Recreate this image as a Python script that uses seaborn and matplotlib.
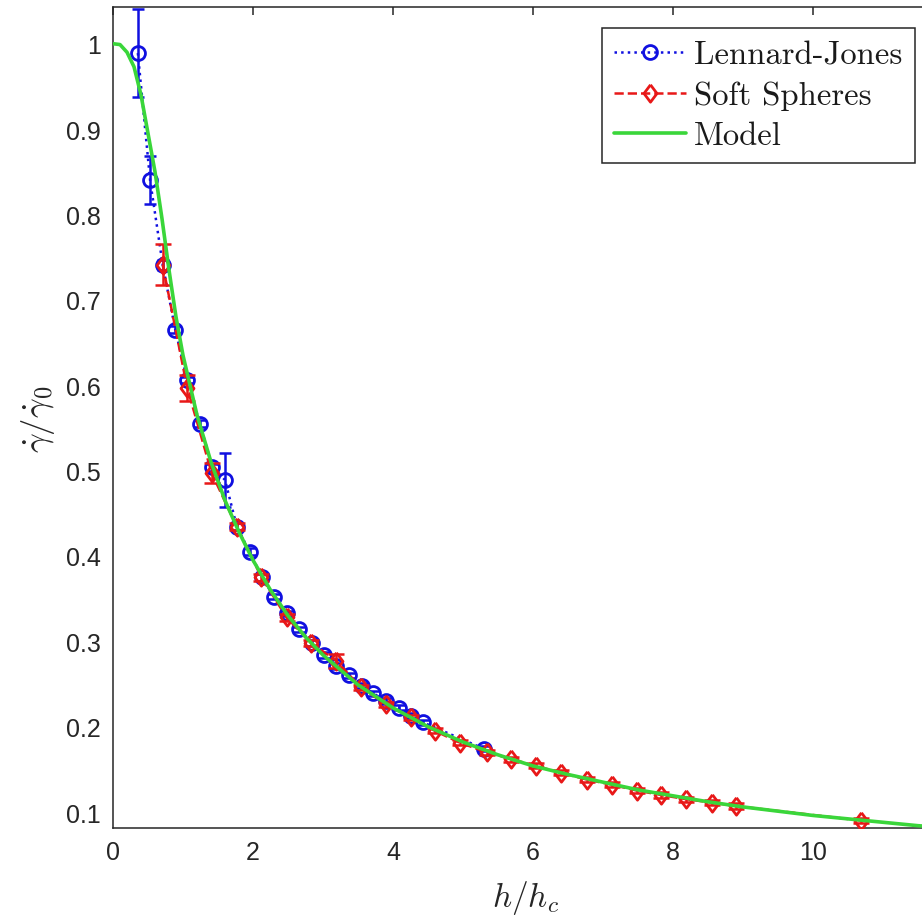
import matplotlib
matplotlib.use("Agg")
import matplotlib.pyplot as plt
import numpy as np
import pandas as pd
import seaborn as sns

# Lennard-Jones data (blue circles)
lj_x = [0.355, 0.53, 0.71, 0.89, 1.06, 1.24, 1.42, 1.60, 1.77, 1.95, 2.13, 2.30,
        2.48, 2.66, 2.84, 3.01, 3.19, 3.37, 3.55, 3.72, 3.90, 4.08, 4.26, 4.43, 5.30]
lj_y = [0.989, 0.840, 0.741, 0.665, 0.606, 0.555, 0.504, 0.489, 0.434, 0.405, 0.375, 0.352,
        0.333, 0.314, 0.298, 0.284, 0.271, 0.260, 0.248, 0.239, 0.230, 0.222, 0.213, 0.205, 0.174]
lj_err = [0.052, 0.028, 0.006, 0.004, 0.004, 0.004, 0.004, 0.032, 0.004, 0.004, 0.004, 0.003,
          0.003, 0.003, 0.003, 0.003, 0.003, 0.003, 0.003, 0.003, 0.003, 0.003, 0.003, 0.003, 0.003]

# Soft Spheres data (red diamonds)
ss_x = [0.71, 1.06, 1.41, 1.77, 2.12, 2.48, 2.83, 3.19, 3.54, 3.90, 4.25, 4.60, 4.96,
        5.34, 5.69, 6.04, 6.40, 6.77, 7.13, 7.49, 7.83, 8.19, 8.56, 8.90, 10.69]
ss_y = [0.741, 0.597, 0.497, 0.434, 0.375, 0.328, 0.298, 0.277, 0.246, 0.226, 0.211, 0.195, 0.181,
        0.170, 0.162, 0.154, 0.146, 0.138, 0.132, 0.125, 0.120, 0.115, 0.111, 0.107, 0.090]
ss_err = [0.024, 0.015, 0.012, 0.004, 0.004, 0.004, 0.004, 0.008, 0.003, 0.003, 0.003, 0.003, 0.003,
          0.003, 0.003, 0.003, 0.003, 0.003, 0.003, 0.003, 0.003, 0.003, 0.003, 0.003, 0.003]

# Model curve
model_x = [0.0, 0.1, 0.2, 0.3, 0.4, 0.5, 0.6, 0.7, 0.8, 0.9, 1.0, 1.2, 1.4, 1.6, 1.8, 2.0,
           2.25, 2.5, 2.75, 3.0, 3.5, 4.0, 4.5, 5.0, 5.5, 6.0, 6.5, 7.0, 7.5, 8.0, 8.5,
           9.0, 9.5, 10.0, 10.5, 11.0, 11.5, 12.0]
model_y = [1.0, 0.999, 0.99, 0.973, 0.94, 0.895, 0.85, 0.795, 0.735, 0.68, 0.635, 0.565,
           0.51, 0.465, 0.428, 0.395, 0.36, 0.33, 0.305, 0.284, 0.249, 0.222, 0.2, 0.182,
           0.167, 0.154, 0.144, 0.135, 0.126, 0.119, 0.112, 0.106, 0.101, 0.096, 0.092,
           0.088, 0.084, 0.081]

x_ticks = [0, 2, 4, 6, 8, 10]
y_ticks = [0.1, 0.2, 0.3, 0.4, 0.5, 0.6, 0.7, 0.8, 0.9, 1.0]
y_ticklabels = ["0.1", "0.2", "0.3", "0.4", "0.5", "0.6", "0.7", "0.8", "0.9", "1"]

sns.set_style("white")
plt.rcParams["font.family"] = ["Liberation Sans", "DejaVu Sans"]
plt.rcParams["mathtext.fontset"] = "cm"

blue = "#1010e0"
red = "#e81818"
green = "#3ad63a"
dark = "#262626"

# MATLAB-like diamond, a bit wider than matplotlib's thin diamond
diamond = [(0, 1), (0.75, 0), (0, -1), (-0.75, 0), (0, 1)]

fig = plt.figure(figsize=(9.22, 9.20), dpi=100)
ax = fig.add_axes([113 / 922, 1 - 829 / 920, (939 - 113) / 922, (829 - 8) / 920])

lj = pd.DataFrame({"x": lj_x, "y": lj_y})
ss = pd.DataFrame({"x": ss_x, "y": ss_y})
model = pd.DataFrame({"x": model_x, "y": model_y})

# error bars
ax.errorbar(lj_x, lj_y, yerr=lj_err, fmt="none", ecolor=blue, elinewidth=1.8, capsize=4,
            capthick=1.8, zorder=2)
ax.errorbar(ss_x, ss_y, yerr=ss_err, fmt="none", ecolor=red, elinewidth=1.8, capsize=6,
            capthick=1.8, zorder=3)

sns.lineplot(data=lj, x="x", y="y", ax=ax, estimator=None, sort=False, color=blue,
             linestyle=":", linewidth=1.8, marker="o", markersize=10, markerfacecolor="none",
             markeredgecolor=blue, markeredgewidth=2, label="Lennard-Jones", zorder=2)
sns.lineplot(data=ss, x="x", y="y", ax=ax, estimator=None, sort=False, color=red,
             linestyle="--", dashes=(6, 5), linewidth=1.8, marker=diamond, markersize=12.5,
             markerfacecolor="none", markeredgecolor=red, markeredgewidth=2,
             label="Soft Spheres", zorder=3)
sns.lineplot(data=model, x="x", y="y", ax=ax, estimator=None, sort=False, color=green,
             linewidth=2.6, label="Model", zorder=4)

ax.set_xlim(0, 11.8)
ax.set_ylim(0.0813, 1.043)
ax.set_xticks(x_ticks)
ax.set_xticklabels([str(t) for t in x_ticks])
ax.set_yticks(y_ticks)
ax.set_yticklabels(y_ticklabels)
ax.tick_params(direction="in", top=True, right=True, length=6, width=1.1, pad=9,
               labelsize=18, colors=dark, labelcolor=dark)
for sp in ax.spines.values():
    sp.set_color(dark)
    sp.set_linewidth(1.1)
    sp.set_visible(True)

ax.set_xlabel(r"$h/h_c$", fontsize=24, color=dark, labelpad=10)
ax.set_ylabel(r"$\dot{\gamma}/\dot{\gamma}_0$", fontsize=25, color=dark, labelpad=6)

leg = ax.legend(loc="upper right", bbox_to_anchor=(915 / 922, 1 - 29 / 920),
                bbox_transform=fig.transFigure, borderaxespad=0,
                prop={"family": "cmr10", "size": 23.5},
                frameon=True, fancybox=False, framealpha=1, edgecolor=dark,
                handlelength=2.2, handletextpad=0.25, labelspacing=0.34, borderpad=0.38)
leg.get_frame().set_linewidth(1.1)
for t in leg.get_texts():
    t.set_color("#1a1a1a")

fig.savefig("out.png", dpi=100)
